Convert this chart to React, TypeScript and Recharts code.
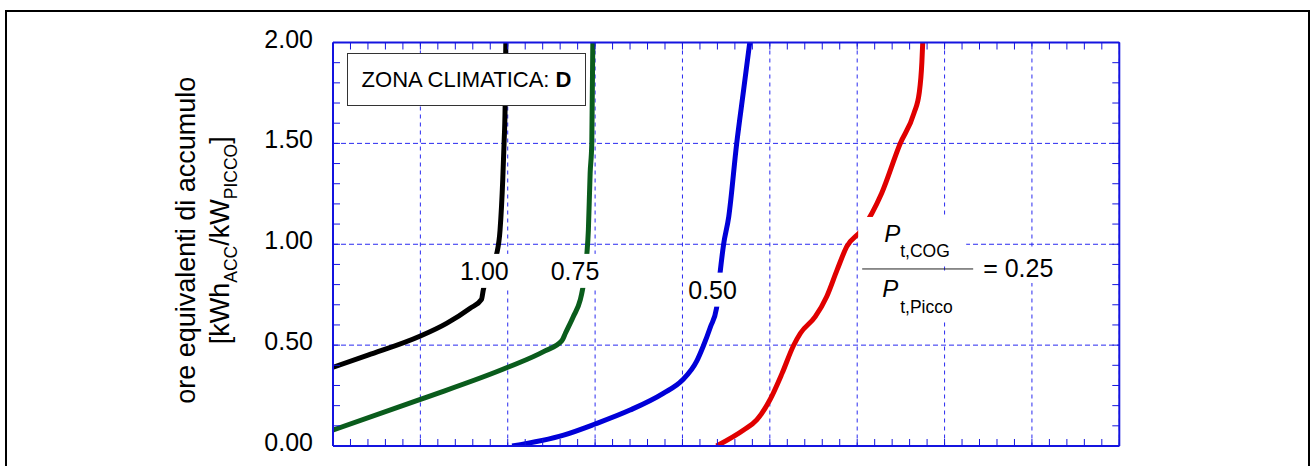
import { LineChart, Line, XAxis, YAxis, CartesianGrid, ReferenceDot } from "recharts";

// axis ticks (major = grid + labels, minor = small inner ticks)
const majorX = [0, 1, 2, 3, 4, 5, 6, 7, 8, 9];
const minorX = Array.from({ length: 46 }, (_, i) => +(i * 0.2).toFixed(1));
const majorY = [0, 0.5, 1, 1.5, 2];
const minorY = Array.from({ length: 21 }, (_, i) => +(i * 0.1).toFixed(1));

// P_t,COG / P_t,Picco = 1.00
const ratio100X = [0, 0.4, 1.0, 1.3, 1.57, 1.7, 1.72, 1.75, 1.875, 1.912, 1.943, 1.958, 1.97, 1.978];
const ratio100Y = [0.39, 0.45, 0.545, 0.608, 0.683, 0.727, 0.773, 0.823, 0.955, 1.07, 1.32, 1.5, 1.68, 2.0];

// = 0.75
const ratio075X = [0, 1.0, 2.0, 2.41, 2.62, 2.66, 2.75, 2.83, 2.855, 2.905, 2.923, 2.943, 2.962, 2.974];
const ratio075Y = [0.079, 0.231, 0.39, 0.468, 0.522, 0.559, 0.641, 0.724, 0.773, 0.947, 1.07, 1.35, 1.5, 2.0];

// = 0.50
const ratio050X = [2.05, 2.64, 3.0, 3.4, 3.78, 4.0, 4.16, 4.24, 4.32, 4.39, 4.43, 4.47, 4.53, 4.62, 4.7, 4.77];
const ratio050Y = [0.0, 0.054, 0.109, 0.178, 0.261, 0.327, 0.418, 0.497, 0.59, 0.683, 0.856, 0.997, 1.137, 1.497, 1.765, 2.0];

// = 0.25
const ratio025X = [4.39, 4.7, 4.85, 5.0, 5.14, 5.27, 5.35, 5.52, 5.65, 5.77, 5.88, 6.05, 6.28, 6.49, 6.65, 6.71, 6.74, 6.75];
const ratio025Y = [0.0, 0.079, 0.129, 0.228, 0.36, 0.497, 0.559, 0.641, 0.74, 0.873, 0.988, 1.07, 1.253, 1.497, 1.65, 1.75, 1.9, 2.0];

const curveLabels = [
  { text: "1.00", x: 1.733, y: 0.868 },
  { text: "0.75", x: 2.77, y: 0.868 },
  { text: "0.50", x: 4.345, y: 0.775 },
];
const ratioLabel = { x: 6.057, y: 0.8775, value: "= 0.25" };

const FONT = "'Liberation Sans', Arial, sans-serif";
const BLUE = "#1414e0";
const GRID = "#2a2af0";

const toPoints = (xs: number[], ys: number[]) => xs.map((x, i) => ({ x, y: ys[i] }));
const isMajorY = (v: number) => majorY.some((m) => Math.abs(m - v) < 1e-6);

const NoLabel = () => <g />;

const YTick = (props: any) => {
  const { x, y, payload } = props;
  if (!isMajorY(payload.value)) return <g />;
  return (
    <text x={x} y={y + 5} textAnchor="end" fontSize={25} fontFamily={FONT} fill="#000">
      {payload.value.toFixed(2)}
    </text>
  );
};

const YTitle = (props: any) => {
  const vb = props.viewBox;
  const cy = vb.y + vb.height / 2 - 4;
  const x1 = vb.x + 35;
  const x2 = vb.x + 69;
  return (
    <g fontFamily={FONT} fill="#000">
      <text x={x1} y={cy} transform={`rotate(-90 ${x1} ${cy})`} textAnchor="middle" fontSize={27}>
        ore equivalenti di accumulo
      </text>
      <text x={x2} y={cy} transform={`rotate(-90 ${x2} ${cy})`} textAnchor="middle" fontSize={27}>
        [kWh
        <tspan fontSize={17.5} dy={8}>ACC</tspan>
        <tspan dy={-8}>/kW</tspan>
        <tspan fontSize={17.5} dy={8}>PICCO</tspan>
        <tspan dy={-8}>]</tspan>
      </text>
    </g>
  );
};

const CurveLabel = ({ cx, cy, text }: any) => (
  <g>
    <rect x={cx - 27} y={cy - 17} width={54} height={34} fill="#fff" />
    <text x={cx} y={cy + 9} textAnchor="middle" fontSize={25} fontFamily={FONT} fill="#000">
      {text}
    </text>
  </g>
);

const RatioLabel = ({ cx, cy, value }: any) => (
  <g fontFamily={FONT} fill="#000">
    <rect x={cx - 4} y={cy - 52} width={108} height={46} fill="#fff" />
    <rect x={cx + 8} y={cy + 3} width={96} height={50} fill="#fff" />
    <rect x={cx + 115} y={cy - 22} width={82} height={36} fill="#fff" />
    <text x={cx + 22} y={cy - 27} fontSize={24} fontStyle="italic">P</text>
    <text x={cx + 38} y={cy - 12} fontSize={17.5}>t,COG</text>
    <line x1={cx} y1={cy} x2={cx + 111} y2={cy} stroke="#222" strokeWidth={1} />
    <text x={cx + 20} y={cy + 28} fontSize={24} fontStyle="italic">P</text>
    <text x={cx + 38} y={cy + 44} fontSize={17.5}>t,Picco</text>
    <text x={cx + 121} y={cy + 8} fontSize={25}>{value}</text>
  </g>
);

// first two curves hang on bottom/left axes, the others on top/right (same scales)
const series = [
  { name: "1.00", xs: ratio100X, ys: ratio100Y, color: "#000000", xId: "x", yId: "y" },
  { name: "0.75", xs: ratio075X, ys: ratio075Y, color: "#0a5c1c", xId: "x", yId: "y" },
  { name: "0.50", xs: ratio050X, ys: ratio050Y, color: "#0000d8", xId: "xt", yId: "yr" },
  { name: "0.25", xs: ratio025X, ys: ratio025Y, color: "#e00000", xId: "xt", yId: "yr" },
];

export default function App() {
  return (
    <div style={{ position: "absolute", left: 0, top: 0, width: 1310, height: 466, overflow: "hidden", background: "#fff" }}>
      <div
        style={{
          position: "absolute",
          left: 5,
          top: 10,
          width: 1305,
          height: 490,
          border: "2px solid #000",
          boxSizing: "border-box",
        }}
      />
      <div style={{ position: "absolute", left: 0, top: 0 }}>
        <LineChart width={1310} height={466} margin={{ top: 42.5, right: 190.7, bottom: 20, left: 160 }}>
          <CartesianGrid
            xAxisId="x"
            yAxisId="y"
            vertical={false}
            stroke={GRID}
            strokeDasharray="5 3"
            horizontalValues={majorY}
          />
          <CartesianGrid
            xAxisId="x"
            yAxisId="y"
            horizontal={false}
            stroke={GRID}
            strokeDasharray="4 4"
            verticalValues={majorX}
          />
          <XAxis
            xAxisId="x"
            type="number"
            dataKey="x"
            domain={[0, 9]}
            allowDataOverflow
            ticks={minorX}
            interval={0}
            orientation="bottom"
            mirror
            tick={NoLabel}
            tickSize={7}
            stroke={BLUE}
            axisLine={{ stroke: BLUE, strokeWidth: 2 }}
          />
          <XAxis
            xAxisId="xt"
            type="number"
            dataKey="x"
            domain={[0, 9]}
            allowDataOverflow
            ticks={minorX}
            interval={0}
            orientation="top"
            mirror
            tick={NoLabel}
            tickSize={7}
            stroke={BLUE}
            axisLine={{ stroke: BLUE, strokeWidth: 2 }}
          />
          <YAxis
            yAxisId="y"
            type="number"
            domain={[0, 2]}
            allowDataOverflow
            ticks={minorY}
            interval={0}
            width={173}
            tick={YTick}
            tickSize={-7}
            tickMargin={27}
            stroke={BLUE}
            axisLine={{ stroke: BLUE, strokeWidth: 2 }}
            label={{ content: (p: any) => <YTitle viewBox={p.viewBox} /> }}
          />
          <YAxis
            yAxisId="yr"
            type="number"
            domain={[0, 2]}
            allowDataOverflow
            ticks={minorY}
            interval={0}
            orientation="right"
            mirror
            tick={NoLabel}
            tickSize={7}
            stroke={BLUE}
            axisLine={{ stroke: BLUE, strokeWidth: 2 }}
          />
          {series.map((s) => (
            <Line
              key={s.name}
              xAxisId={s.xId}
              yAxisId={s.yId}
              data={toPoints(s.xs, s.ys)}
              dataKey="y"
              type="monotone"
              stroke={s.color}
              strokeWidth={5}
              dot={false}
              activeDot={false}
              isAnimationActive={false}
            />
          ))}
          {curveLabels.map((l) => (
            <ReferenceDot
              key={l.text}
              xAxisId="x"
              yAxisId="y"
              x={l.x}
              y={l.y}
              r={0}
              shape={(p: any) => <CurveLabel cx={p.cx} cy={p.cy} text={l.text} />}
            />
          ))}
          <ReferenceDot
            xAxisId="x"
            yAxisId="y"
            x={ratioLabel.x}
            y={ratioLabel.y}
            r={0}
            shape={(p: any) => <RatioLabel cx={p.cx} cy={p.cy} value={ratioLabel.value} />}
          />
        </LineChart>
      </div>
      <div
        style={{
          position: "absolute",
          left: 347,
          top: 53,
          width: 239,
          height: 53,
          border: "1.5px solid #333",
          boxSizing: "border-box",
          background: "#fff",
          display: "flex",
          alignItems: "center",
          justifyContent: "center",
          fontFamily: FONT,
          fontSize: 22,
          color: "#000",
        }}
      >
        ZONA CLIMATICA:&nbsp;<b>D</b>
      </div>
    </div>
  );
}
